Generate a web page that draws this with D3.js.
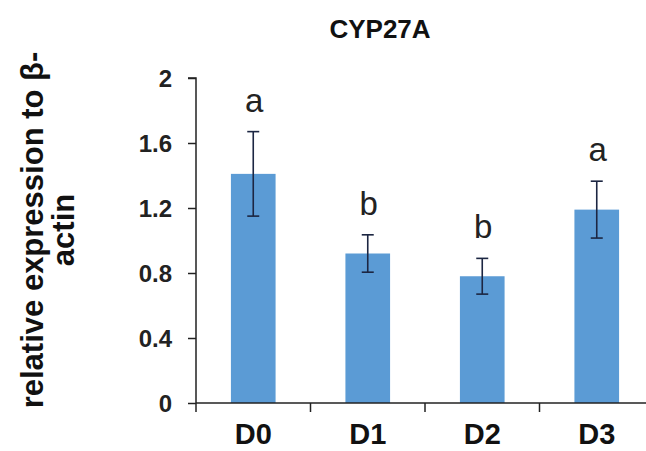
<!DOCTYPE html>
<html>
<head>
<meta charset="utf-8">
<script src="https://cdn.jsdelivr.net/npm/d3@7"></script>
<style>
  html, body { margin: 0; padding: 0; background: #fff; }
  svg { display: block; }
</style>
</head>
<body>
<svg id="chart" width="646" height="451"></svg>
<script>
// CYP27A expression by day
const categories = ["D0", "D1", "D2", "D3"];
const means = [1.41, 0.92, 0.78, 1.19];
const errors = [0.26, 0.115, 0.11, 0.175];
const groupLetters = ["a", "b", "b", "a"];
const yTicks = [0, 0.4, 0.8, 1.2, 1.6, 2];
const yTickLabels = ["0", "0.4", "0.8", "1.2", "1.6", "2"];

const svg = d3.select("#chart");
const font = "Liberation Sans, Arial, sans-serif";

const x0 = 196, plotBottom = 403, plotTop = 78;
const step = 114.5;

const x = d3.scaleBand()
  .domain(categories)
  .range([x0, x0 + step * categories.length])
  .paddingInner(0.61)
  .paddingOuter(0.305);

const y = d3.scaleLinear().domain([0, 2]).range([plotBottom, plotTop]);

// bars
svg.append("g").selectAll("rect")
  .data(categories)
  .join("rect")
  .attr("x", d => x(d))
  .attr("y", (d, i) => y(means[i]))
  .attr("width", x.bandwidth())
  .attr("height", (d, i) => y(0) - y(means[i]))
  .attr("fill", "#5b9bd5");

// error bars
const eb = svg.append("g")
  .attr("stroke", "#1c2642")
  .attr("stroke-width", 1.6);
categories.forEach((c, i) => {
  const cx = x(c) + x.bandwidth() / 2;
  const hi = y(means[i] + errors[i]), lo = y(means[i] - errors[i]);
  eb.append("line").attr("x1", cx).attr("x2", cx).attr("y1", hi).attr("y2", lo);
  eb.append("line").attr("x1", cx - 6).attr("x2", cx + 6).attr("y1", hi).attr("y2", hi);
  eb.append("line").attr("x1", cx - 6).attr("x2", cx + 6).attr("y1", lo).attr("y2", lo);
});

// significance letters
svg.append("g").selectAll("text")
  .data(categories)
  .join("text")
  .attr("x", d => x(d) + x.bandwidth() / 2 + 1)
  .attr("y", (d, i) => y(means[i] + errors[i]) - 20)
  .attr("text-anchor", "middle")
  .attr("font-family", font)
  .attr("font-size", 33)
  .attr("fill", "#222")
  .text((d, i) => groupLetters[i]);

// y axis
const yAxis = d3.axisLeft(y)
  .tickValues(yTicks)
  .tickFormat((d, i) => yTickLabels[i])
  .tickSize(8)
  .tickPadding(16);
const gy = svg.append("g").attr("transform", `translate(${x0},0)`).call(yAxis);
gy.select(".domain").attr("d", `M-8,${plotTop}H0V${plotBottom}`).attr("stroke", "#222").attr("stroke-width", 1.5);
gy.selectAll(".tick line").attr("stroke", "#222").attr("stroke-width", 1.5);
gy.selectAll(".tick text")
  .attr("font-family", font)
  .attr("font-weight", "bold")
  .attr("font-size", 24)
  .attr("fill", "#222")
  .attr("dy", "0.36em");

// x axis with ticks at category boundaries
const gx = svg.append("g").attr("transform", `translate(0,${plotBottom})`);
gx.append("line")
  .attr("x1", x0).attr("x2", x0 + step * categories.length)
  .attr("stroke", "#222").attr("stroke-width", 1.5);
d3.range(categories.length).forEach(i => {
  const tx = x0 + step * i;
  gx.append("line").attr("x1", tx).attr("x2", tx).attr("y1", 0).attr("y2", 9)
    .attr("stroke", "#222").attr("stroke-width", 1.5);
});
gx.selectAll("text.cat")
  .data(categories)
  .join("text")
  .attr("class", "cat")
  .attr("x", d => x(d) + x.bandwidth() / 2)
  .attr("y", 41)
  .attr("text-anchor", "middle")
  .attr("font-family", font)
  .attr("font-weight", "bold")
  .attr("font-size", 29)
  .attr("fill", "#111")
  .text(d => d);

// title
svg.append("text")
  .attr("x", 380)
  .attr("y", 38)
  .attr("text-anchor", "middle")
  .attr("font-family", font)
  .attr("font-weight", "bold")
  .attr("font-size", 26)
  .attr("fill", "#111")
  .text("CYP27A");

// y axis title (two lines)
const yt = svg.append("text")
  .attr("transform", "translate(0,230) rotate(-90)")
  .attr("text-anchor", "middle")
  .attr("font-family", font)
  .attr("font-weight", "bold")
  .attr("font-size", 31)
  .attr("fill", "#111");
yt.append("tspan").attr("x", 0).attr("y", 43).text("relative expression to β-");
yt.append("tspan").attr("x", 0).attr("y", 74).text("actin");
</script>
</body>
</html>
